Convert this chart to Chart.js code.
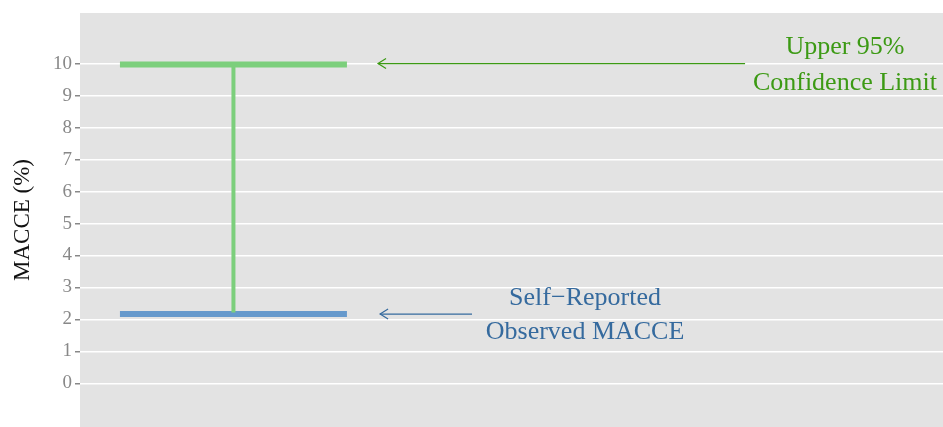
<!DOCTYPE html>
<html>
<head>
<meta charset="utf-8">
<script src="https://cdn.jsdelivr.net/npm/chart.js@4"></script>
<style>
  html, body { margin: 0; padding: 0; background: #fff; overflow: hidden; }
  canvas { display: block; }
</style>
</head>
<body>
<canvas id="c" width="943" height="427"></canvas>
<script>
// values
const observed = 2.17;      // self-reported MACCE (%)
const upper95 = 9.97;       // upper 95% confidence limit (%)
const whiskerX = [0.5, 1.5]; // horizontal extent of the caps
const centerX = 1;
const yTicks = [0, 1, 2, 3, 4, 5, 6, 7, 8, 9, 10];
const greenArrowX = [3.254, 1.637];
const blueArrowX = [2.051, 1.646];
const greenLabel = ['Upper 95%', 'Confidence Limit'];
const blueLabel = ['Self\u2212Reported', 'Observed MACCE'];
const greenLabelX = 3.694;
const blueLabelX = 2.549;

const green = '#7ccf7c';
const blue = '#6699cc';
const greenText = '#3c9a14';
const blueText = '#356a9e';
const serif = '"Liberation Serif", "DejaVu Serif", serif';

const bgPlugin = {
  id: 'bg',
  beforeDraw(chart) {
    const { ctx, chartArea: a } = chart;
    ctx.save();
    ctx.fillStyle = '#e3e3e3';
    ctx.fillRect(a.left, a.top, a.right - a.left, a.bottom - a.top);
    ctx.restore();
  }
};

const notePlugin = {
  id: 'notes',
  afterDatasetsDraw(chart) {
    const { ctx, scales: { x, y } } = chart;
    ctx.save();
    // arrow heads
    const head = (px, py, col) => {
      ctx.strokeStyle = col;
      ctx.lineWidth = 1.2;
      ctx.beginPath();
      ctx.moveTo(px + 8, py - 5);
      ctx.lineTo(px, py);
      ctx.lineTo(px + 8, py + 5);
      ctx.stroke();
    };
    head(x.getPixelForValue(greenArrowX[1]), y.getPixelForValue(10), greenText);
    head(x.getPixelForValue(blueArrowX[1]), y.getPixelForValue(observed), blueText);

    ctx.font = '26px ' + serif;
    ctx.textAlign = 'center';
    ctx.textBaseline = 'middle';
    ctx.fillStyle = greenText;
    greenLabel.forEach((t, i) => {
      ctx.fillText(t, x.getPixelForValue(greenLabelX), y.getPixelForValue(10) - 16 + i * 36);
    });
    ctx.fillStyle = blueText;
    blueLabel.forEach((t, i) => {
      ctx.fillText(t, x.getPixelForValue(blueLabelX), y.getPixelForValue(observed) - 16 + i * 34);
    });
    ctx.restore();
  }
};

new Chart(document.getElementById('c'), {
  type: 'line',
  data: {
    datasets: [
      {
        data: [{ x: centerX, y: observed + 0.05 }, { x: centerX, y: upper95 - 0.05 }],
        borderColor: green, borderWidth: 4
      },
      {
        data: whiskerX.map(v => ({ x: v, y: upper95 })),
        borderColor: green, borderWidth: 6
      },
      {
        data: whiskerX.map(v => ({ x: v, y: observed })),
        borderColor: blue, borderWidth: 6
      },
      {
        data: greenArrowX.map(v => ({ x: v, y: 10 })),
        borderColor: greenText, borderWidth: 1.3
      },
      {
        data: blueArrowX.map(v => ({ x: v, y: observed })),
        borderColor: blueText, borderWidth: 1.3
      }
    ]
  },
  options: {
    responsive: false,
    animation: false,
    layout: { padding: { top: 13, right: 0, bottom: 0, left: 0 } },
    elements: { point: { radius: 0 }, line: { borderCapStyle: 'butt' } },
    plugins: { legend: { display: false }, tooltip: { enabled: false } },
    scales: {
      x: {
        type: 'linear', min: 0.324, max: 4.126, display: false
      },
      y: {
        type: 'linear', min: -1.36, max: 11.58,
        afterBuildTicks(s) { s.ticks = yTicks.map(v => ({ value: v })); },
        afterFit(s) { s.width = 80; s.paddingTop = 0; s.paddingBottom = 0; },
        border: { display: false },
        grid: { color: '#ffffff', lineWidth: 1.5, tickColor: '#888888', tickLength: 5 },
        ticks: { color: '#888888', font: { family: serif, size: 19 }, padding: 3 },
        title: { display: true, text: 'MACCE (%)', color: '#111', font: { family: serif, size: 23 }, padding: { top: 9, bottom: 10 } }
      }
    }
  },
  plugins: [bgPlugin, notePlugin]
});
</script>
</body>
</html>
